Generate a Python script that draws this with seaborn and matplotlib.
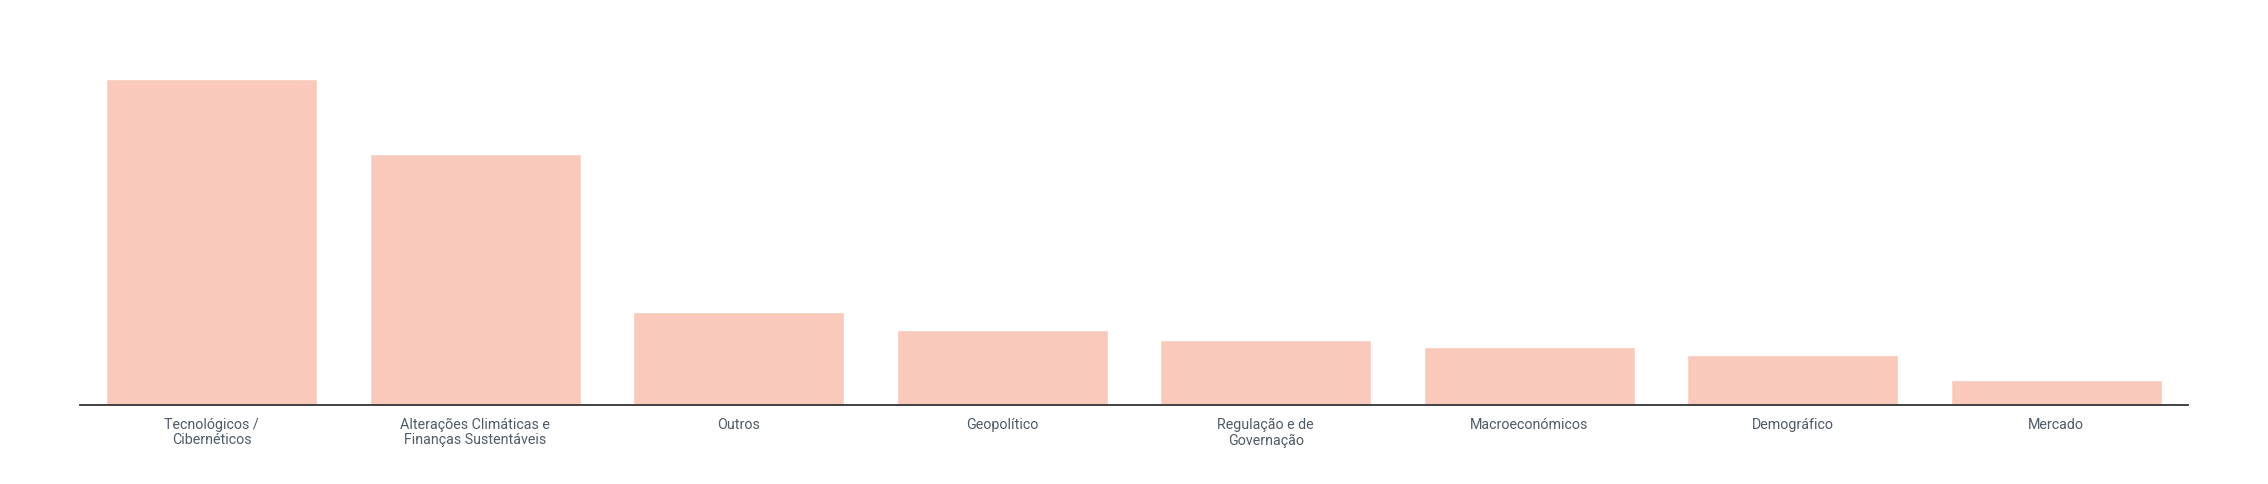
import pandas as pd
import seaborn as sns
import matplotlib.pyplot as plt

categorias = ["Tecnológicos /\nCibernéticos", "Alterações Climáticas e\nFinanças Sustentáveis", "Outros",
              "Geopolítico", "Regulação e de\nGovernação", "Macroeconómicos", "Demográfico", "Mercado"]
valores = [13.0, 10.0, 3.7, 3.0, 2.6, 2.3, 2.0, 1.0]

dados = pd.DataFrame({"categoria": categorias, "valor": valores})

sns.set_style("white")
plt.rcParams['font.family'] = ['Roboto', 'DejaVu Sans']

fig = plt.figure(figsize=(22.68, 4.84), dpi=100)
ax = fig.add_axes([80 / 2268, 79 / 484, 2108 / 2268, 345 / 484])
sns.barplot(x="categoria", y="valor", data=dados, color="#f9c9bb", saturation=1, width=0.8, ax=ax)

ax.set_xlim(-0.5, len(categorias) - 0.5)
ax.set_ylim(0, max(valores) * 345 / 326)
ax.set_xlabel("")
ax.set_ylabel("")
ax.set_yticks([])
for lado in ["top", "right", "left"]:
    ax.spines[lado].set_visible(False)
ax.spines["bottom"].set_color("#333333")
ax.spines["bottom"].set_linewidth(1.3)
ax.tick_params(axis="x", length=5, width=1, color="#777777", pad=4.5, labelsize=10.3, labelcolor="#4f5b66")
for t in ax.get_xticklabels():
    t.set_linespacing(1.1)

plt.savefig("out.png", dpi=100)
